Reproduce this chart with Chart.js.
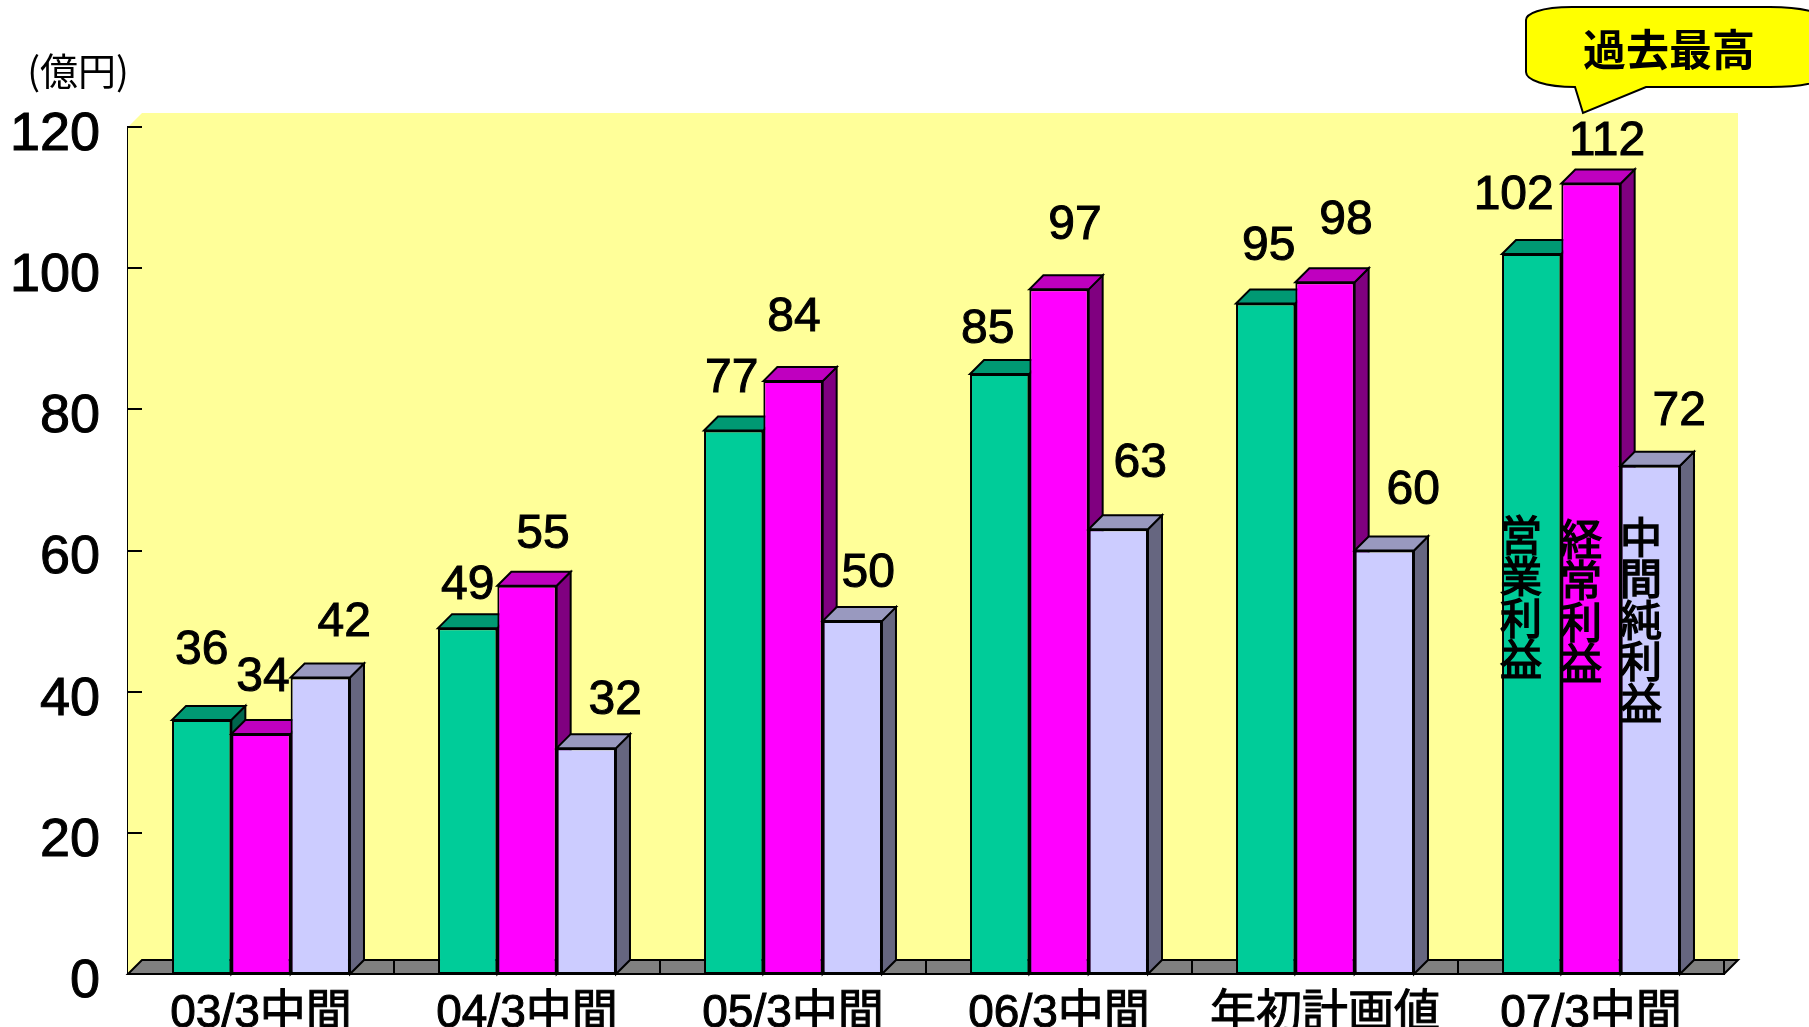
<!DOCTYPE html>
<html>
<head>
<meta charset="utf-8">
<style>
  html, body { margin: 0; padding: 0; background: #fff; overflow: hidden; }
  canvas { display: block; }
</style>
<script src="https://cdn.jsdelivr.net/npm/chart.js@4"></script>
</head>
<body>
<canvas id="chart" width="1809" height="1027"></canvas>
<script>
// Data
const categories = ['03/3中間', '04/3中間', '05/3中間', '06/3中間', '年初計画値', '07/3中間'];
const seriesNames = ['営業利益', '経常利益', '中間純利益'];
const operatingProfit = [36, 49, 77, 85, 95, 102];
const ordinaryProfit = [34, 55, 84, 97, 98, 112];
const netProfit = [42, 32, 50, 63, 60, 72];
const yTicks = [0, 20, 40, 60, 80, 100, 120];
const unitLabel = '(億円)';
const calloutLabel = '過去最高';

// Look
const LATIN = '"Liberation Sans", "Noto Sans CJK JP", sans-serif';
const CJK = '"Noto Sans CJK JP", "Liberation Sans", sans-serif';
const DEPTH = 14; // depth of the fake 3D
const faces = [
  { front: '#00CC99', top: '#009973', side: '#00664D' },
  { front: '#FF00FF', top: '#BF00BF', side: '#800080' },
  { front: '#CCCCFF', top: '#9999BF', side: '#666680' },
];

// Value label shift from the bar's top centre [dx, dy], they were placed by hand in the original
const labelShift = [
  [[0, -72], [0, -45], [-2, -55], [-12, -47], [3, -60], [-18, -61]],
  [[2, -59], [16, -54], [1, -66], [16, -67], [21, -65], [16, -45]],
  [[24, -58], [29, -50], [16, -50], [22, -69], [29, -63], [29, -57]],
];
// Series names written down the last group of bars: centre x, first glyph y
const nameSpots = [[1521, 535], [1581, 539], [1641, 537]];

function poly(ctx, pts, fill) {
  ctx.beginPath();
  pts.forEach((p, i) => (i ? ctx.lineTo(p[0], p[1]) : ctx.moveTo(p[0], p[1])));
  ctx.closePath();
  ctx.fillStyle = fill;
  ctx.fill();
  ctx.stroke();
}

// fill plus a thin outline, the original text is a bit heavier than the plain fonts
function heavyText(ctx, text, x, y) {
  ctx.strokeText(text, x, y);
  ctx.fillText(text, x, y);
}

// Wall and floor behind the bars, plus the tick marks
const backdrop = {
  id: 'backdrop',
  beforeDatasetsDraw(chart) {
    const { ctx, chartArea: a, scales } = chart;
    ctx.save();
    ctx.fillStyle = '#FFFF99';
    ctx.beginPath();
    ctx.moveTo(a.left, a.top);
    ctx.lineTo(a.left + DEPTH, a.top - DEPTH);
    ctx.lineTo(a.right + DEPTH, a.top - DEPTH);
    ctx.lineTo(a.right + DEPTH, a.bottom - DEPTH);
    ctx.lineTo(a.right, a.bottom);
    ctx.lineTo(a.left, a.bottom);
    ctx.closePath();
    ctx.fill();

    ctx.strokeStyle = '#000';
    ctx.lineWidth = 2;
    poly(ctx, [
      [a.left, a.bottom],
      [a.left + DEPTH, a.bottom - DEPTH],
      [a.right + DEPTH, a.bottom - DEPTH],
      [a.right, a.bottom],
    ], '#808080');

    // y ticks lie on the left wall
    ctx.beginPath();
    scales.y.ticks.forEach((t) => {
      const y = Math.round(scales.y.getPixelForValue(t.value));
      ctx.moveTo(a.left, y);
      ctx.lineTo(a.left + DEPTH, y);
    });
    // x ticks cross the floor at the category edges
    const step = a.width / categories.length;
    for (let i = 1; i <= categories.length; i++) {
      const x = Math.round(a.left + step * i);
      ctx.moveTo(x, a.bottom - DEPTH);
      ctx.lineTo(x, a.bottom);
    }
    ctx.stroke();
    ctx.restore();
  },
  // draw the series left to right ourselves, the library goes the other way
  beforeDatasetDraw() {
    return false;
  },
  afterDatasetsDraw(chart) {
    const { ctx } = chart;
    ctx.save();
    ctx.strokeStyle = '#000';
    ctx.lineWidth = 2;
    ctx.lineJoin = 'miter';
    chart.data.datasets.forEach((ds, d) => {
      chart.getDatasetMeta(d).data.forEach((bar) => {
        const half = bar.width / 2;
        const l = bar.x - half;
        const r = bar.x + half;
        poly(ctx, [[r, bar.y], [r + DEPTH, bar.y - DEPTH], [r + DEPTH, bar.base - DEPTH], [r, bar.base]], faces[d].side);
        poly(ctx, [[l, bar.y], [l + DEPTH, bar.y - DEPTH], [r + DEPTH, bar.y - DEPTH], [r, bar.y]], faces[d].top);
        bar.draw(ctx);
      });
    });
    ctx.restore();
  },
};

// Texts on top of the bars, unit and callout
const overlay = {
  id: 'overlay',
  afterDraw(chart) {
    const { ctx } = chart;
    ctx.save();
    ctx.fillStyle = '#000';
    ctx.strokeStyle = '#000';
    ctx.lineWidth = 1;
    ctx.textAlign = 'center';
    ctx.textBaseline = 'middle';

    ctx.font = '48px ' + LATIN;
    chart.data.datasets.forEach((ds, d) => {
      chart.getDatasetMeta(d).data.forEach((bar, i) => {
        const shift = labelShift[d][i];
        heavyText(ctx, String(ds.data[i]), bar.x + shift[0], bar.y + shift[1] + 3);
      });
    });

    ctx.font = '42px ' + CJK;
    ctx.lineWidth = 1.5;
    seriesNames.forEach((name, s) => {
      Array.from(name).forEach((ch, i) => {
        heavyText(ctx, ch, nameSpots[s][0], nameSpots[s][1] + i * 41.5);
      });
    });

    ctx.font = '38px ' + CJK;
    ctx.fillText(unitLabel, 78, 71);

    // speech bubble, runs off the right edge of the page
    ctx.beginPath();
    ctx.moveTo(1572, 7);
    ctx.lineTo(1770, 7);
    ctx.bezierCurveTo(1815, 7, 1835, 18, 1835, 30);
    ctx.lineTo(1835, 65);
    ctx.bezierCurveTo(1835, 78, 1815, 87, 1770, 87);
    ctx.lineTo(1646, 87);
    ctx.lineTo(1583, 113);
    ctx.lineTo(1575, 87);
    ctx.bezierCurveTo(1545, 87, 1526, 80, 1526, 72);
    ctx.lineTo(1526, 20);
    ctx.bezierCurveTo(1526, 14, 1540, 7, 1572, 7);
    ctx.closePath();
    ctx.fillStyle = '#FFFF00';
    ctx.lineWidth = 2;
    ctx.fill();
    ctx.stroke();
    ctx.fillStyle = '#000';
    ctx.font = 'bold 43px ' + CJK;
    ctx.fillText(calloutLabel, 1669, 50);
    ctx.restore();
  },
};

new Chart(document.getElementById('chart'), {
  type: 'bar',
  data: {
    labels: categories,
    datasets: [operatingProfit, ordinaryProfit, netProfit].map((values, i) => ({
      label: seriesNames[i],
      data: values,
      backgroundColor: faces[i].front,
      borderColor: '#000',
      borderWidth: 2,
      borderSkipped: false,
      categoryPercentage: 0.669,
      barPercentage: 1,
    })),
  },
  options: {
    responsive: false,
    animation: false,
    devicePixelRatio: 1,
    layout: { padding: { top: 127, right: 85, left: 0, bottom: 0 } },
    plugins: { legend: { display: false }, tooltip: { enabled: false }, title: { display: false } },
    scales: {
      x: {
        grid: { display: false },
        border: { display: true, color: '#000', width: 2 },
        afterFit: (scale) => { scale.height = 53; },
        ticks: {
          color: '#000',
          font: { family: LATIN, size: 46 },
          textStrokeColor: '#000',
          textStrokeWidth: 1,
          padding: 5,
          maxRotation: 0,
          autoSkip: false,
        },
      },
      y: {
        min: 0,
        max: 120,
        afterBuildTicks: (scale) => { scale.ticks = yTicks.map((v) => ({ value: v })); },
        grid: { display: false },
        border: { display: true, color: '#000', width: 2 },
        afterFit: (scale) => { scale.width = 128; },
        ticks: {
          color: '#000',
          font: { family: LATIN, size: 54 },
          textStrokeColor: '#000',
          textStrokeWidth: 1,
          padding: 20,
          labelOffset: 8,
          autoSkip: false,
        },
      },
    },
  },
  plugins: [backdrop, overlay],
});
</script>
</body>
</html>
